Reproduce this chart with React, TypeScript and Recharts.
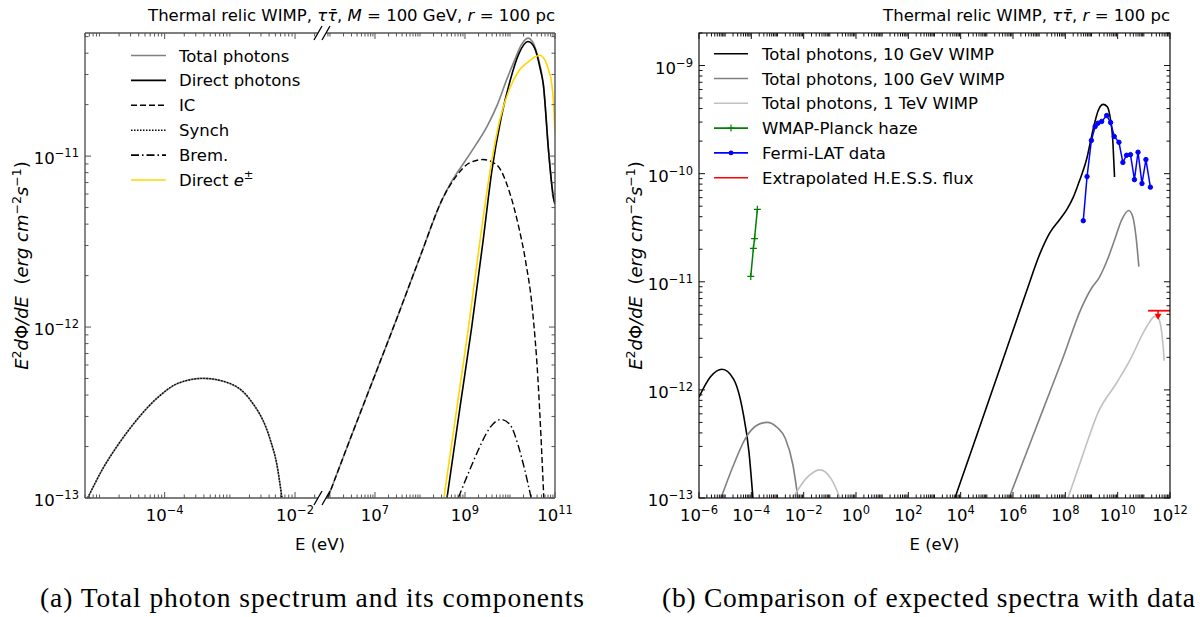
import { LineChart, Line, XAxis, YAxis } from 'recharts'

const FONT = '"DejaVu Sans", Verdana, sans-serif'
const SERIF = '"Liberation Serif", "Times New Roman", serif'

// ---- (a) tau tau, M = 100 GeV, r = 100 pc : components ----
// low-energy segment: synchrotron (total photons are the same curve here)
const SYNCH_E = [6.6e-6, 1.12e-5, 2.0e-5, 3.98e-5, 7.94e-5, 1.58e-4, 3.89e-4, 1.0e-3, 2.0e-3, 4.17e-3, 5.25e-3, 6.3e-3]
const SYNCH_F = [1.0e-13, 1.48e-13, 2.09e-13, 2.95e-13, 3.89e-13, 4.68e-13, 5.01e-13, 4.68e-13, 3.8e-13, 2.19e-13, 1.58e-13, 1.0e-13]

// high-energy segment
const TOTAL_E = [8.9e5, 3.16e6, 1e7, 3.16e7, 1e8, 3.16e8, 5.0e8, 1e9, 1.78e9, 3.16e9, 5.25e9, 8.51e9, 1.26e10, 1.78e10, 2.51e10, 3.31e10, 4.17e10, 5.5e10, 7.24e10, 9.33e10, 1e11]
const TOTAL_F = [1.0e-13, 2.4e-13, 5.25e-13, 1.15e-12, 2.57e-12, 5.62e-12, 7.08e-12, 9.33e-12, 1.175e-11, 1.51e-11, 2.0e-11, 2.82e-11, 3.63e-11, 4.47e-11, 4.9e-11, 4.57e-11, 3.8e-11, 2.63e-11, 1.05e-11, 5.62e-12, 5.25e-12]
const DIRECT_E = [3.98e8, 7.94e8, 1.41e9, 2.51e9, 3.98e9, 6.31e9, 1e10, 1.58e10, 2.51e10, 3.55e10, 4.79e10, 5.5e10, 7.24e10, 9.33e10, 1e11]
const DIRECT_F = [1.0e-13, 3.55e-13, 1.0e-12, 3.16e-12, 8.32e-12, 1.66e-11, 2.75e-11, 3.98e-11, 4.68e-11, 4.27e-11, 3.16e-11, 2.63e-11, 1.05e-11, 5.62e-12, 5.25e-12]
const IC_E = [8.9e5, 3.16e6, 1e7, 3.16e7, 1e8, 3.16e8, 6.3e8, 1.26e9, 2.51e9, 5.0e9, 1e10, 1.58e10, 2.24e10, 3.16e10, 4.17e10, 5.0e10, 5.75e10]
const IC_F = [1.0e-13, 2.4e-13, 5.25e-13, 1.15e-12, 2.57e-12, 5.62e-12, 7.59e-12, 9.12e-12, 9.55e-12, 8.91e-12, 6.03e-12, 3.8e-12, 2.4e-12, 1.26e-12, 5.0e-13, 2.0e-13, 8.9e-14]
const BREM_E = [7.08e8, 1.26e9, 2.14e9, 3.55e9, 6.31e9, 1e10, 1.51e10, 2.14e10, 2.95e10]
const BREM_F = [1.0e-13, 1.45e-13, 2.0e-13, 2.57e-13, 2.88e-13, 2.69e-13, 2.04e-13, 1.45e-13, 1.0e-13]
const EPM_E = [3.39e8, 1.2e9, 2.14e9, 3.55e9, 6.03e9, 1e10, 1.58e10, 2.51e10, 3.55e10, 4.57e10, 6.03e10, 7.24e10, 8.32e10, 9.33e10, 1e11]
const EPM_F = [1.0e-13, 1.0e-12, 3.16e-12, 7.94e-12, 1.66e-11, 2.51e-11, 3.16e-11, 3.55e-11, 3.8e-11, 3.89e-11, 3.63e-11, 3.16e-11, 2.75e-11, 2.0e-11, 1.35e-11]

// ---- (b) expected spectra vs data ----
const W10_LOW_E = [1e-6, 2.75e-6, 7.59e-6, 2.09e-5, 4.79e-5, 8.13e-5, 1.15e-4]
const W10_LOW_F = [8.57e-13, 1.32e-12, 1.55e-12, 1.26e-12, 6.24e-13, 2.66e-13, 1.0e-13]
const W10_HIGH_E = [6.03e3, 3.16e4, 3.16e5, 3.16e6, 1.07e7, 2.51e7, 6.31e7, 1.15e8, 2.0e8, 3.31e8, 6.46e8, 1.23e9, 1.78e9, 2.75e9, 3.98e9, 4.9e9, 6.61e9, 7.59e9]
const W10_HIGH_F = [1.0e-13, 3.16e-13, 1.58e-12, 7.94e-12, 1.82e-11, 2.82e-11, 3.8e-11, 4.68e-11, 6.03e-11, 8.32e-11, 1.35e-10, 2.75e-10, 3.8e-10, 4.37e-10, 4.17e-10, 3.55e-10, 1.91e-10, 9.33e-11]
const W100_LOW_E = [6.92e-6, 2.09e-5, 5.75e-5, 1.58e-4, 3.98e-4, 1e-3, 2.0e-3, 3.89e-3, 6.03e-3]
const W100_LOW_F = [1.0e-13, 2.02e-13, 3.51e-13, 4.68e-13, 5.01e-13, 4.47e-13, 3.55e-13, 2.02e-13, 1.0e-13]
const W100_HIGH_E = [7.08e5, 3.16e6, 1.58e7, 7.94e7, 3.98e8, 1e9, 2.0e9, 3.98e9, 7.94e9, 1.41e10, 2.63e10, 3.8e10, 5.01e10, 6.46e10]
const W100_HIGH_F = [1.0e-13, 2.57e-13, 7.08e-13, 1.95e-12, 5.62e-12, 8.71e-12, 1.1e-11, 1.58e-11, 2.51e-11, 3.72e-11, 4.57e-11, 3.98e-11, 2.63e-11, 1.38e-11]
const W1000_LOW_E = [3.89e-3, 1.23e-2, 4.17e-2, 1.11e-1, 2.45e-1]
const W1000_LOW_F = [1.0e-13, 1.51e-13, 1.82e-13, 1.51e-13, 1.0e-13]
const W1000_HIGH_E = [1.26e8, 4.68e8, 1.78e9, 9.33e9, 3.16e10, 9.12e10, 1.58e11, 2.63e11, 3.63e11, 4.37e11, 5.25e11, 6.03e11]
const W1000_HIGH_F = [1.0e-13, 2.51e-13, 6.17e-13, 1.17e-12, 1.95e-12, 3.31e-12, 4.17e-12, 4.79e-12, 4.57e-12, 3.98e-12, 2.82e-12, 1.86e-12]
const HAZE_E = [9.5e-5, 1.2e-4, 1.33e-4, 1.7e-4]
const HAZE_F = [1.12e-11, 2.04e-11, 2.51e-11, 4.68e-11]
const FERMI_E = [4.84e8, 6.76e8, 9.9e8, 1.38e9, 1.76e9, 2.45e9, 3.8e9, 5.37e9, 7.4e9, 1.12e10, 1.58e10, 2.19e10, 3.09e10, 4.37e10, 6.0e10, 8.5e10, 1.2e11, 1.78e11]
const FERMI_F = [3.67e-11, 9.4e-11, 2.03e-10, 2.73e-10, 2.93e-10, 3.04e-10, 3.45e-10, 2.97e-10, 2.21e-10, 1.95e-10, 1.27e-10, 1.48e-10, 1.5e-10, 8.8e-11, 1.58e-10, 8.1e-11, 1.35e-10, 7.5e-11]
const HESS_E = [1.45e11, 1e12]
const HESS_F = [5.4e-12, 5.4e-12]
const HESS_ARROW_E = [3.5e11]
const HESS_ARROW_F = [5.4e-12]

// axis ranges and labelled decades
const XA_DOMAIN = [6.0e-6, 2.25e-2]
const XB_DOMAIN = [8.15e5, 1e11]
const YA_DOMAIN = [1e-13, 5.25e-11]
const XC_DOMAIN = [1e-6, 1e12]
const YC_DOMAIN = [1e-13, 2e-9]
const XA_MAJOR = [1e-4, 1e-2]
const XB_MAJOR = [1e7, 1e9, 1e11]
const YA_MAJOR = [1e-13, 1e-12, 1e-11]
const XC_MAJOR = [1e-6, 1e-4, 1e-2, 1e0, 1e2, 1e4, 1e6, 1e8, 1e10, 1e12]
const YC_MAJOR = [1e-13, 1e-12, 1e-11, 1e-10, 1e-9]

const AX_A = '#555'
const AX_C = '#111'

const pts = (es: number[], fs: number[]) => es.map((E, i) => ({ E, F: fs[i] }))

function logTicks(domain: number[]) {
  const [lo, hi] = domain
  const out: number[] = []
  for (let d = Math.floor(Math.log10(lo)); d <= Math.ceil(Math.log10(hi)); d++) {
    for (let m = 1; m <= 9; m++) {
      const v = m * Math.pow(10, d)
      if (v >= lo * 0.9999 && v <= hi * 1.0001) out.push(v)
    }
  }
  return out
}

const isMajor = (list: number[], v: number) => list.some((m) => Math.abs(v / m - 1) < 1e-6)

function PowLabel({ x, y, v, anchor }: { x: number; y: number; v: number; anchor: 'middle' | 'end' }) {
  const e = Math.round(Math.log10(v))
  return (
    <text x={x} y={y} textAnchor={anchor} fontFamily={FONT} fontSize={16.5} fill="#000">
      10<tspan dy={-7} fontSize={11.5}>{e < 0 ? `\u2212${-e}` : `${e}`}</tspan>
    </text>
  )
}

function makeXTick(majors: number[], top: number, bottom: number, color: string) {
  return function XTick(props: any) {
    const { x, payload } = props
    const v = payload.value
    const major = isMajor(majors, v)
    const len = major ? 6 : 3.5
    return (
      <g>
        <line x1={x} x2={x} y1={bottom} y2={bottom - len} stroke={color} />
        <line x1={x} x2={x} y1={top} y2={top + len} stroke={color} />
        {major && <PowLabel x={x} y={bottom + 23} v={v} anchor="middle" />}
      </g>
    )
  }
}

function makeYTick(majors: number[], left: number | null, right: number | null, color: string) {
  return function YTick(props: any) {
    const { y, payload } = props
    const v = payload.value
    const major = isMajor(majors, v)
    const len = major ? 6 : 3.5
    return (
      <g>
        {left !== null && <line x1={left} x2={left + len} y1={y} y2={y} stroke={color} />}
        {right !== null && <line x1={right} x2={right - len} y1={y} y2={y} stroke={color} />}
        {major && left !== null && <PowLabel x={left - 6} y={y + 8} v={v} anchor="end" />}
      </g>
    )
  }
}

function PlusDot(props: any) {
  const { cx, cy } = props
  if (cx == null || cy == null) return <g />
  return <path d={`M${cx - 3.5},${cy} H${cx + 3.5} M${cx},${cy - 3.5} V${cy + 3.5}`} stroke="#008000" strokeWidth={1.2} />
}

function ArrowDot(props: any) {
  const { cx, cy } = props
  if (cx == null || cy == null) return <g />
  return (
    <g>
      <line x1={cx} x2={cx} y1={cy} y2={cy + 5} stroke="#ff0000" strokeWidth={1.5} />
      <path d={`M${cx - 3.5},${cy + 3} L${cx + 3.5},${cy + 3} L${cx},${cy + 9} Z`} fill="#ff0000" />
    </g>
  )
}

const common = { type: 'monotone' as const, dataKey: 'F', dot: false, isAnimationActive: false, strokeWidth: 1.6 }

function SegmentLow() {
  return (
    <LineChart width={318} height={617} margin={{ top: 33, right: 0, bottom: 79, left: 0 }}>
      <XAxis dataKey="E" type="number" scale="log" domain={XA_DOMAIN} allowDataOverflow ticks={logTicks(XA_DOMAIN)}
        interval={0} tick={makeXTick(XA_MAJOR, 33, 498, AX_A)} tickLine={false} axisLine={false} height={40} />
      <YAxis dataKey="F" type="number" scale="log" domain={YA_DOMAIN} allowDataOverflow ticks={logTicks(YA_DOMAIN)}
        interval={0} tick={makeYTick(YA_MAJOR, 85, null, AX_A)} tickLine={false} axisLine={false} width={85} />
      {/* total photons coincide with synchrotron below 0.1 eV */}
      <Line {...common} data={pts(SYNCH_E, SYNCH_F)} stroke="#808080" />
      <Line {...common} data={pts(SYNCH_E, SYNCH_F)} stroke="#000" strokeDasharray="1.5 1.5" strokeWidth={1.4} />
    </LineChart>
  )
}

function SegmentHigh() {
  return (
    <LineChart width={274} height={617} margin={{ top: 33, right: 0, bottom: 79, left: 0 }}>
      <XAxis dataKey="E" type="number" scale="log" domain={XB_DOMAIN} allowDataOverflow ticks={logTicks(XB_DOMAIN)}
        interval={0} tick={makeXTick(XB_MAJOR, 33, 498, AX_A)} tickLine={false} axisLine={false} height={40} />
      <YAxis orientation="right" dataKey="F" type="number" scale="log" domain={YA_DOMAIN} allowDataOverflow ticks={logTicks(YA_DOMAIN)}
        interval={0} tick={makeYTick(YA_MAJOR, null, 229, AX_A)} tickLine={false} axisLine={false} width={45} />
      <Line {...common} data={pts(TOTAL_E, TOTAL_F)} stroke="#808080" />
      <Line {...common} data={pts(DIRECT_E, DIRECT_F)} stroke="#000" />
      <Line {...common} data={pts(IC_E, IC_F)} stroke="#000" strokeDasharray="6 3" strokeWidth={1.4} />
      <Line {...common} data={pts(BREM_E, BREM_F)} stroke="#000" strokeDasharray="8 3 1.5 3" strokeWidth={1.4} />
      <Line {...common} data={pts(EPM_E, EPM_F)} stroke="#ffd700" />
    </LineChart>
  )
}

function PanelB() {
  return (
    <LineChart width={600} height={617} margin={{ top: 33, right: 30, bottom: 79, left: 0 }}>
      <XAxis dataKey="E" type="number" scale="log" domain={XC_DOMAIN} allowDataOverflow ticks={logTicks(XC_DOMAIN)}
        interval={0} tick={makeXTick(XC_MAJOR, 33, 498, AX_C)} tickLine={false} axisLine={false} height={40} />
      <YAxis dataKey="F" type="number" scale="log" domain={YC_DOMAIN} allowDataOverflow ticks={logTicks(YC_DOMAIN)}
        interval={0} tick={makeYTick(YC_MAJOR, 99, 570, AX_C)} tickLine={false} axisLine={false} width={99} />
      <Line {...common} data={pts(W10_LOW_E, W10_LOW_F)} stroke="#000" />
      <Line {...common} data={pts(W10_HIGH_E, W10_HIGH_F)} stroke="#000" />
      <Line {...common} data={pts(W100_LOW_E, W100_LOW_F)} stroke="#808080" />
      <Line {...common} data={pts(W100_HIGH_E, W100_HIGH_F)} stroke="#808080" />
      <Line {...common} data={pts(W1000_LOW_E, W1000_LOW_F)} stroke="#c0c0c0" />
      <Line {...common} data={pts(W1000_HIGH_E, W1000_HIGH_F)} stroke="#c0c0c0" />
      <Line {...common} type="linear" data={pts(HAZE_E, HAZE_F)} stroke="#008000" strokeWidth={1.5} dot={PlusDot} />
      <Line {...common} type="linear" data={pts(FERMI_E, FERMI_F)} stroke="#0000ff" strokeWidth={1.5}
        dot={{ r: 2.2, fill: '#0000ff', stroke: '#0000ff', strokeWidth: 1 }} />
      <Line {...common} type="linear" data={pts(HESS_E, HESS_F)} stroke="#ff0000" strokeWidth={1.8} />
      <Line {...common} type="linear" data={pts(HESS_ARROW_E, HESS_ARROW_F)} stroke="none" dot={ArrowDot} />
    </LineChart>
  )
}

const LEGEND_A = [
  { label: 'Total photons', color: '#808080', dash: undefined },
  { label: 'Direct photons', color: '#000', dash: undefined },
  { label: 'IC', color: '#000', dash: '6 3' },
  { label: 'Synch', color: '#000', dash: '1.5 1.5' },
  { label: 'Brem.', color: '#000', dash: '8 3 1.5 3' },
  { label: 'Direct ', color: '#ffd700', dash: undefined },
]

const LEGEND_B = [
  { label: 'Total photons, 10 GeV WIMP', color: '#000', marker: '' },
  { label: 'Total photons, 100 GeV WIMP', color: '#808080', marker: '' },
  { label: 'Total photons, 1 TeV WIMP', color: '#c0c0c0', marker: '' },
  { label: 'WMAP-Planck haze', color: '#008000', marker: 'plus' },
  { label: 'Fermi-LAT data', color: '#0000ff', marker: 'dot' },
  { label: 'Extrapolated H.E.S.S. flux', color: '#ff0000', marker: '' },
]

function YLabel({ x }: { x: number }) {
  return (
    <text transform={`translate(${x},265.5) rotate(-90)`} textAnchor="middle" fontFamily={FONT} fontSize={18} fill="#000">
      <tspan fontStyle="italic">E</tspan>
      <tspan dy={-7} fontSize={12.5}>2</tspan>
      <tspan dy={7} fontStyle="italic">d</tspan>
      <tspan>Φ</tspan>
      <tspan fontStyle="italic">/dE</tspan>
      <tspan>{'\u00a0\u00a0('}</tspan>
      <tspan fontStyle="italic">erg cm</tspan>
      <tspan dy={-7} fontSize={12.5}>{'\u22122'}</tspan>
      <tspan dy={7} fontStyle="italic">s</tspan>
      <tspan dy={-7} fontSize={12.5}>{'\u22121'}</tspan>
      <tspan dy={7}>)</tspan>
    </text>
  )
}

function Overlay() {
  const brk = [318, 326]
  return (
    <svg width={1200} height={617} style={{ position: 'absolute', left: 0, top: 0, pointerEvents: 'none' }}>
      {/* frame, panel (a) with broken x axis */}
      <g stroke={AX_A} strokeWidth={1.4} fill="none">
        <line x1={85} y1={33} x2={85} y2={498} />
        <line x1={85} y1={498} x2={318} y2={498} />
        <line x1={85} y1={33} x2={318} y2={33} />
        <line x1={326} y1={498} x2={555} y2={498} />
        <line x1={326} y1={33} x2={555} y2={33} />
        <line x1={555} y1={33} x2={555} y2={498} />
      </g>
      <g stroke="#000" strokeWidth={1.3}>
        {brk.map((bx) => (
          <g key={bx}>
            <line x1={bx - 4} y1={505} x2={bx + 4} y2={491} />
            <line x1={bx - 4} y1={40} x2={bx + 4} y2={26} />
          </g>
        ))}
      </g>
      {/* frame, panel (b) */}
      <rect x={699} y={33} width={471} height={465} fill="none" stroke={AX_C} strokeWidth={1.2} />

      {/* titles */}
      <text x={555} y={21} textAnchor="end" fontFamily={FONT} fontSize={16.5} fill="#000">
        Thermal relic WIMP, <tspan fontStyle="italic">τ</tspan><tspan fontStyle="italic">{'τ\u0304'}</tspan>, <tspan fontStyle="italic">M</tspan> = 100 GeV, <tspan fontStyle="italic">r</tspan> = 100 pc
      </text>
      <text x={1170} y={21} textAnchor="end" fontFamily={FONT} fontSize={16.5} fill="#000">
        Thermal relic WIMP, <tspan fontStyle="italic">τ</tspan><tspan fontStyle="italic">{'τ\u0304'}</tspan>, <tspan fontStyle="italic">r</tspan> = 100 pc
      </text>

      {/* axis labels */}
      <YLabel x={28} />
      <YLabel x={642} />
      <text x={320} y={550} textAnchor="middle" fontFamily={FONT} fontSize={16.5} fill="#000">E (eV)</text>
      <text x={934.5} y={550} textAnchor="middle" fontFamily={FONT} fontSize={16.5} fill="#000">E (eV)</text>

      {/* legend (a) */}
      {LEGEND_A.map((l, i) => {
        const y = 55.5 + i * 24.9
        return (
          <g key={l.label}>
            <line x1={131} x2={166} y1={y} y2={y} stroke={l.color} strokeWidth={1.6} strokeDasharray={l.dash} />
            <text x={179} y={y + 6} fontFamily={FONT} fontSize={16.5} fill="#000">
              {l.label}
              {i === 5 && <tspan fontStyle="italic">e</tspan>}
              {i === 5 && <tspan dy={-7} fontSize={11.5}>±</tspan>}
            </text>
          </g>
        )
      })}

      {/* legend (b) */}
      {LEGEND_B.map((l, i) => {
        const y = 53.7 + i * 24.8
        const mx = 731
        return (
          <g key={l.label}>
            <line x1={714} x2={748} y1={y} y2={y} stroke={l.color} strokeWidth={1.6} />
            {l.marker === 'plus' && (
              <path d={`M${mx - 3.5},${y} H${mx + 3.5} M${mx},${y - 3.5} V${y + 3.5}`} stroke={l.color} strokeWidth={1.2} />
            )}
            {l.marker === 'dot' && <circle cx={mx} cy={y} r={2.4} fill={l.color} />}
            <text x={762} y={y + 6} fontFamily={FONT} fontSize={16.5} fill="#000">{l.label}</text>
          </g>
        )
      })}

      {/* captions */}
      <text x={40} y={607} textLength={544} lengthAdjust="spacing" fontFamily={SERIF} fontSize={27.5} fill="#000">
        (a) Total photon spectrum and its components
      </text>
      <text x={662} y={607} textLength={533} lengthAdjust="spacing" fontFamily={SERIF} fontSize={27.5} fill="#000">
        (b) Comparison of expected spectra with data
      </text>
    </svg>
  )
}

export default function App() {
  return (
    <div style={{ position: 'absolute', left: 0, top: 0, width: 1200, height: 617, background: '#fff', fontFamily: FONT }}>
      <div style={{ position: 'absolute', left: 0, top: 0 }}>
        <SegmentLow />
      </div>
      <div style={{ position: 'absolute', left: 326, top: 0 }}>
        <SegmentHigh />
      </div>
      <div style={{ position: 'absolute', left: 600, top: 0 }}>
        <PanelB />
      </div>
      <Overlay />
    </div>
  )
}
